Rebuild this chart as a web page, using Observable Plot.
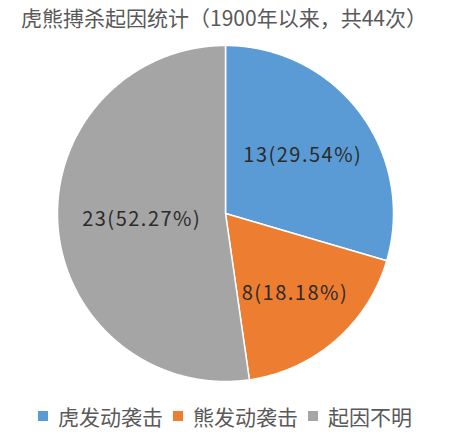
<!DOCTYPE html>
<html><head><meta charset="utf-8">
<script src="https://cdn.jsdelivr.net/npm/d3@7"></script>
<script src="https://cdn.jsdelivr.net/npm/@observablehq/plot@0.6"></script>
<style>
body{margin:0;background:#fff;font-family:"Noto Sans CJK SC","Noto Sans",sans-serif;}
#wrap{width:450px;height:437px;overflow:hidden;background:#fff;}
#title{height:32px;line-height:30px;padding-top:2px;box-sizing:border-box;text-align:center;font-size:21px;color:#595959;white-space:nowrap;margin-left:-2px;}
#legend{margin-top:4px;}
#chart svg text{letter-spacing:1.5px;}
div.lg-swatches{justify-content:center !important;font-family:"Noto Sans CJK SC",sans-serif !important;font-size:21px !important;color:#595959 !important;min-height:0 !important;margin:0 !important;}
span.lg-swatch{margin-right:10px !important;}
span.lg-swatch:last-child{margin-right:0 !important;}
span.lg-swatch svg{margin-right:10px !important;}
</style></head><body>
<div id="wrap">
<div id="title"></div>
<div id="chart"></div>
<div id="legend"></div>
</div>
<script>
const title = "虎熊搏杀起因统计（1900年以来，共44次）";
const categories = ["虎发动袭击", "熊发动袭击", "起因不明"];
const counts = [13, 8, 23];
const percents = ["29.54", "18.18", "52.27"];
const colors = ["#5B9BD5", "#ED7D31", "#A5A5A5"];

document.getElementById("title").textContent = title;

const rows = categories.map((c, i) => ({category: c, count: counts[i], pct: percents[i]}));
const arcs = d3.pie().sort(null).value(d => d.count)(rows);

const pts = [];
const labels = [];
for (const a of arcs) {
  const c = a.data.category;
  pts.push({category: c, x: 0, y: 0});
  const span = a.endAngle - a.startAngle;
  const n = Math.max(2, Math.ceil(span / 0.005));
  for (let k = 0; k <= n; k++) {
    const t = a.startAngle + span * k / n;
    pts.push({category: c, x: Math.sin(t), y: Math.cos(t)});
  }
  pts.push({category: c, x: 0, y: 0});
  const mid = (a.startAngle + a.endAngle) / 2;
  // sector area centroid distance, kept at least half the radius
  const lr = Math.max(0.5, 4 * Math.sin(span / 2) / (3 * span));
  labels.push({category: c, x: lr * Math.sin(mid), y: lr * Math.cos(mid), text: `${a.data.count}(${a.data.pct}%)`});
}

const W = 450, H = 365, cx = 225, cy = 181, R = 168;

const chart = Plot.plot({
  width: W, height: H, margin: 0,
  style: {background: "#fff", overflow: "visible"},
  x: {domain: [-cx / R, (W - cx) / R], axis: null},
  y: {domain: [-(H - cy) / R, cy / R], axis: null},
  color: {domain: categories, range: colors},
  marks: [
    Plot.line(pts, {x: "x", y: "y", z: "category", fill: "category", stroke: "white", strokeWidth: 1.5, curve: "linear"}),
    Plot.text(labels, {x: "x", y: "y", text: "text", fontSize: 20, fill: "#2b2b2b", fontFamily: "Noto Sans CJK SC, sans-serif"})
  ]
});
document.getElementById("chart").appendChild(chart);

const legend = Plot.legend({
  color: {domain: categories, range: colors},
  legend: "swatches",
  swatchSize: 10,
  className: "lg"
});
document.getElementById("legend").appendChild(legend);
</script>
</body></html>
